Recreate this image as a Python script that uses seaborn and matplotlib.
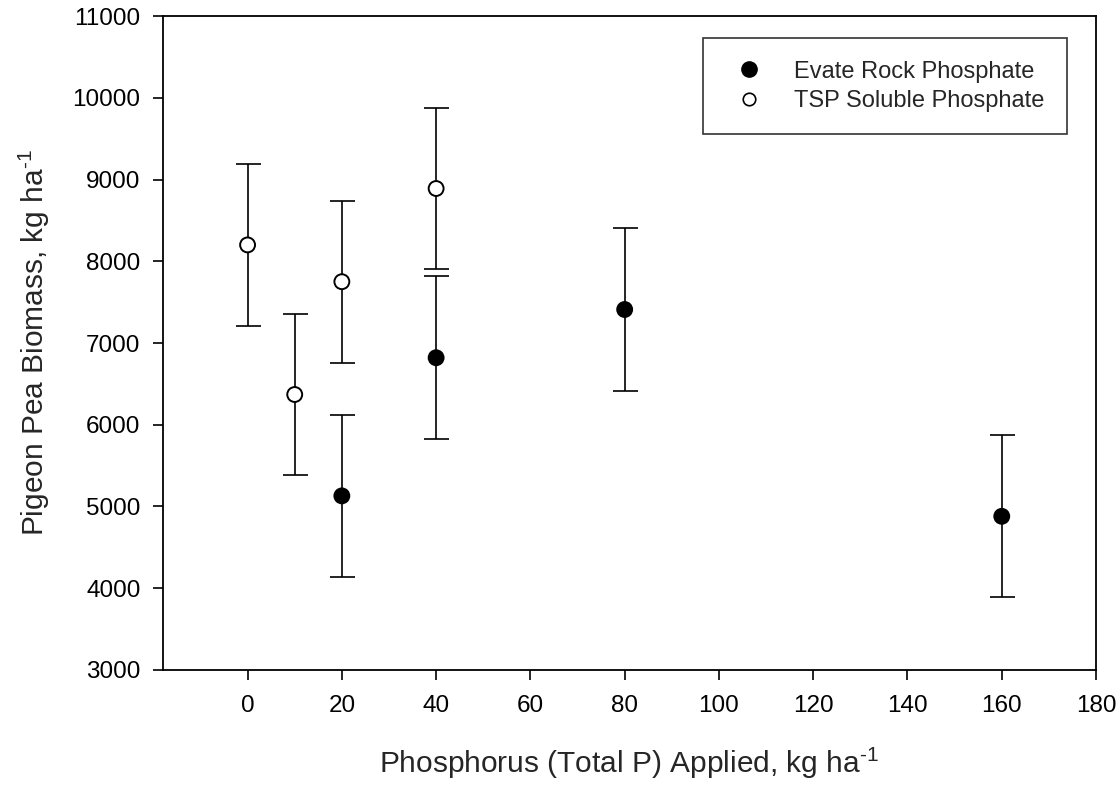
import numpy as np
import pandas as pd
import matplotlib
matplotlib.use("Agg")
import matplotlib.pyplot as plt
import seaborn as sns
from matplotlib.lines import Line2D

# Data
rock_p = [20, 40, 80, 160]
rock_biomass = [5130, 6820, 7410, 4880]
rock_err = [990, 995, 1000, 990]

tsp_p = [0, 10, 20, 40]
tsp_biomass = [8200, 6370, 7750, 8890]
tsp_err = [990, 990, 990, 990]

series_names = ["Evate Rock Phosphate", "TSP Soluble Phosphate"]

data = pd.DataFrame({
    "P": rock_p + tsp_p,
    "Biomass": rock_biomass + tsp_biomass,
    "Err": rock_err + tsp_err,
    "Source": [series_names[0]] * len(rock_p) + [series_names[1]] * len(tsp_p),
})

sns.set_style("ticks")
plt.rcParams['font.family'] = ['Liberation Sans', 'DejaVu Sans']
plt.rcParams['mathtext.fontset'] = 'custom'
plt.rcParams['mathtext.rm'] = 'Liberation Sans'
plt.rcParams['mathtext.it'] = 'Liberation Sans'

fig = plt.figure(figsize=(11.2, 7.86), dpi=100)
ax = fig.add_axes([0.1453, 0.1476, 0.8333, 0.832])

# error bars first, so the markers sit on top
ax.errorbar(data["P"], data["Biomass"], yerr=data["Err"], fmt="none",
            ecolor="black", elinewidth=1.2, capsize=9, capthick=1.2, zorder=1)

sns.scatterplot(data=data, x="P", y="Biomass", hue="Source",
                palette={series_names[0]: "black", series_names[1]: "white"},
                edgecolor="black", linewidth=1.4, s=115, legend=False,
                zorder=3, ax=ax)

ax.set_xlim(-18, 180)
ax.set_ylim(3000, 11000)
ax.set_xticks(np.arange(0, 181, 20))
ax.set_yticks(np.arange(3000, 11001, 1000))
ax.tick_params(direction="out", length=7, width=1.2, labelsize=17.5, colors="black", pad=9)
ax.tick_params(axis="x", pad=11)
for s in ax.spines.values():
    s.set_visible(True)
    s.set_linewidth(1.3)
    s.set_color("black")

ax.set_xlabel(r"Phosphorus (Total P) Applied, kg ha$^{\text{-1}}$", fontsize=21.5, labelpad=21)
ax.set_ylabel(r"Pigeon Pea Biomass, kg ha$^{\text{-1}}$", fontsize=21.5, labelpad=15)

handles = [
    Line2D([], [], marker="o", ls="none", markersize=11, markerfacecolor="black", markeredgecolor="black"),
    Line2D([], [], marker="o", ls="none", markersize=9, markerfacecolor="white", markeredgecolor="black", markeredgewidth=1.2),
]
leg = ax.legend(handles, series_names, loc="upper right", bbox_to_anchor=(0.969, 0.966),
                fontsize=17, frameon=True, fancybox=False, edgecolor="black",
                handletextpad=0.9, borderpad=0.95, labelspacing=0.3, borderaxespad=0)
leg.get_frame().set_linewidth(1.2)

fig.savefig("out.png", dpi=100)
